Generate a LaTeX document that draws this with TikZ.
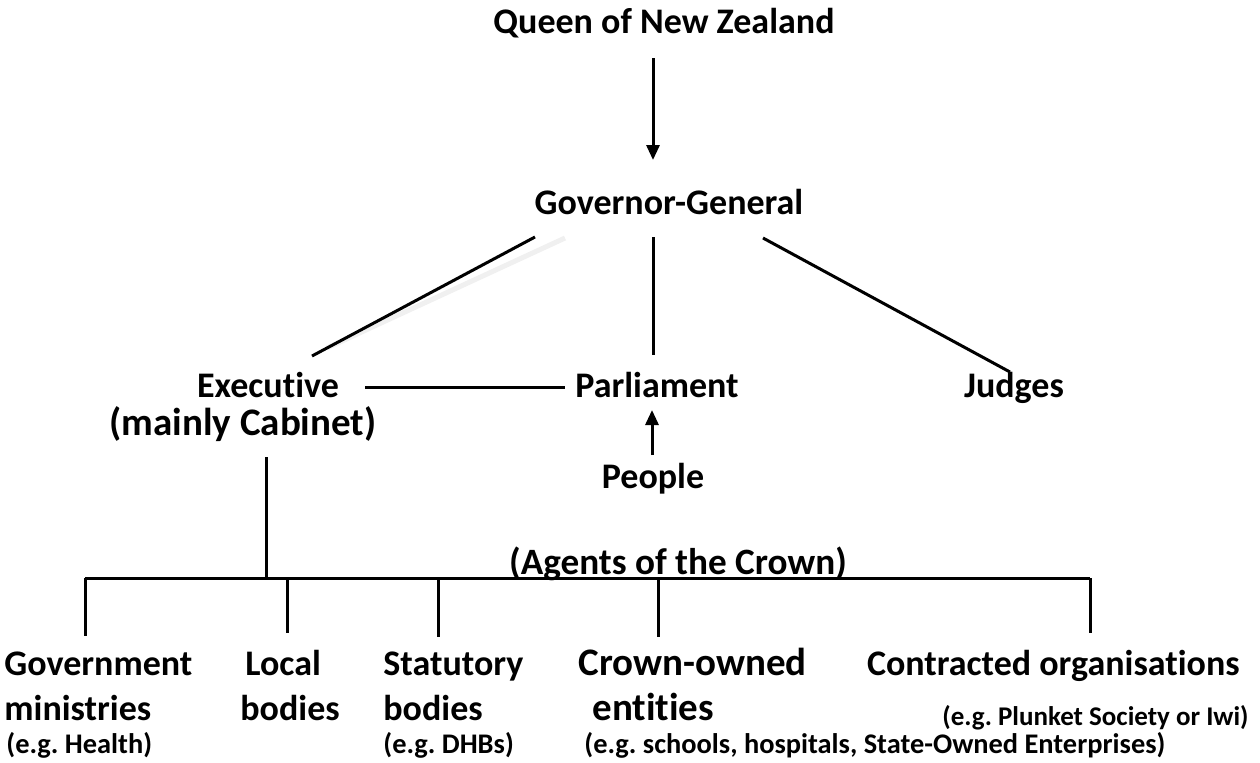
\documentclass[tikz,border=0pt]{standalone}
\usepackage{fontspec}
\setmainfont{Carlito}[Ligatures=NoCommon]
\usepackage{tikz}
\usetikzlibrary{arrows.meta}
\usetikzlibrary{positioning}
\frenchspacing
\tikzset{>={Triangle[length=7.5pt,width=6.5pt]}}
\tikzstyle{big} = [draw=none, inner sep = 0, font=\fontsize{18}{22}\selectfont\bfseries]
\tikzstyle{bigger} = [draw=none, inner sep = 0, font=\fontsize{19.5}{23}\selectfont\bfseries]
\tikzstyle{small} = [draw=none, inner sep = 0, font=\fontsize{14.2}{17}\selectfont\bfseries]
\tikzstyle{link} = [-, line width=1.5pt]

\begin{document}
\begin{tikzpicture}[x=0.5pt, y=-0.5pt]
\useasboundingbox (0,0) rectangle (1260,762);
% top of the chart
\node [big, anchor=base] (Q) at (664, 33) {Queen of New Zealand};
\node [big, anchor=base] (GG) at (669, 214) {Governor-General};
\node [big, anchor=base] (E) at (268, 397) {Executive};
\node [bigger, anchor=base] (EC) at (243, 435) {(mainly Cabinet)};
\node [big, anchor=base] (P) at (657, 397) {Parliament};
\node [big, anchor=base] (J) at (1014, 397) {Judges};
\node [big, anchor=base] (Pe) at (653, 488) {People};
\node [big, anchor=base, font=\fontsize{18.6}{22}\selectfont\bfseries] (A) at (678, 574) {(Agents of the Crown)};
% bottom row
\node [big, anchor=base west] (GM1) at (4, 675) {Government};
\node [big, anchor=base west] (GM2) at (4, 720) {ministries};
\node [small, anchor=base west] (GM3) at (6, 753) {(e.g. Health)};
\node [big, anchor=base west] (LB1) at (245, 675) {Local};
\node [big, anchor=base west] (LB2) at (240, 720) {bodies};
\node [big, anchor=base west] (SB1) at (383, 675) {Statutory};
\node [big, anchor=base west] (SB2) at (383, 720) {bodies};
\node [small, anchor=base west] (SB3) at (383, 753) {(e.g. DHBs)};
\node [bigger, anchor=base west] (CO1) at (578, 675) {Crown-owned};
\node [bigger, anchor=base west] (CO2) at (592, 720) {entities};
\node [small, anchor=base west] (CO3) at (584, 753) {(e.g. schools, hospitals, State-Owned Enterprises)};
\node [big, anchor=base east] (CT1) at (1240, 675) {Contracted organisations};
\node [small, anchor=base east, font=\fontsize{13.5}{16}\selectfont\bfseries] (CT2) at (1249, 725) {(e.g. Plunket Society or Iwi)};
% line ends
\coordinate (q0) at (653, 58);
\coordinate (q1) at (653, 160);
\coordinate (g0) at (535, 237);
\coordinate (g1) at (312, 356);
\coordinate (s0) at (565, 238);
\coordinate (s1) at (327, 348);
\coordinate (g2) at (653, 237);
\coordinate (g3) at (653, 355);
\coordinate (g4) at (763, 238);
\coordinate (g5) at (1010, 372);
\coordinate (e0) at (365, 387);
\coordinate (e1) at (565, 387);
\coordinate (p0) at (652, 455);
\coordinate (p1) at (652, 410);
\coordinate (x0) at (266, 457);
\coordinate (x1) at (266, 578);
\coordinate (b0) at (85, 578);
\coordinate (b1) at (1090, 578);
\draw [->, line width=1.5pt] (q0) to (q1);
\draw [link, draw=black!6, line width=2.5pt] (s0) to (s1);
\draw [link] (g0) to (g1);
\draw [link] (g2) to (g3);
\draw [link] (g4) to (g5);
\draw [link] (e0) to (e1);
\draw [->, line width=1.5pt] (p0) to (p1);
\draw [link] (x0) to (x1);
\draw [link] (b0) to (b1);
\foreach \xx/\yy in {85/636, 287/633, 438/637, 658/637, 1090/633}
  \draw [link] (\xx, 578) -- (\xx, \yy);
\end{tikzpicture}
\end{document}
